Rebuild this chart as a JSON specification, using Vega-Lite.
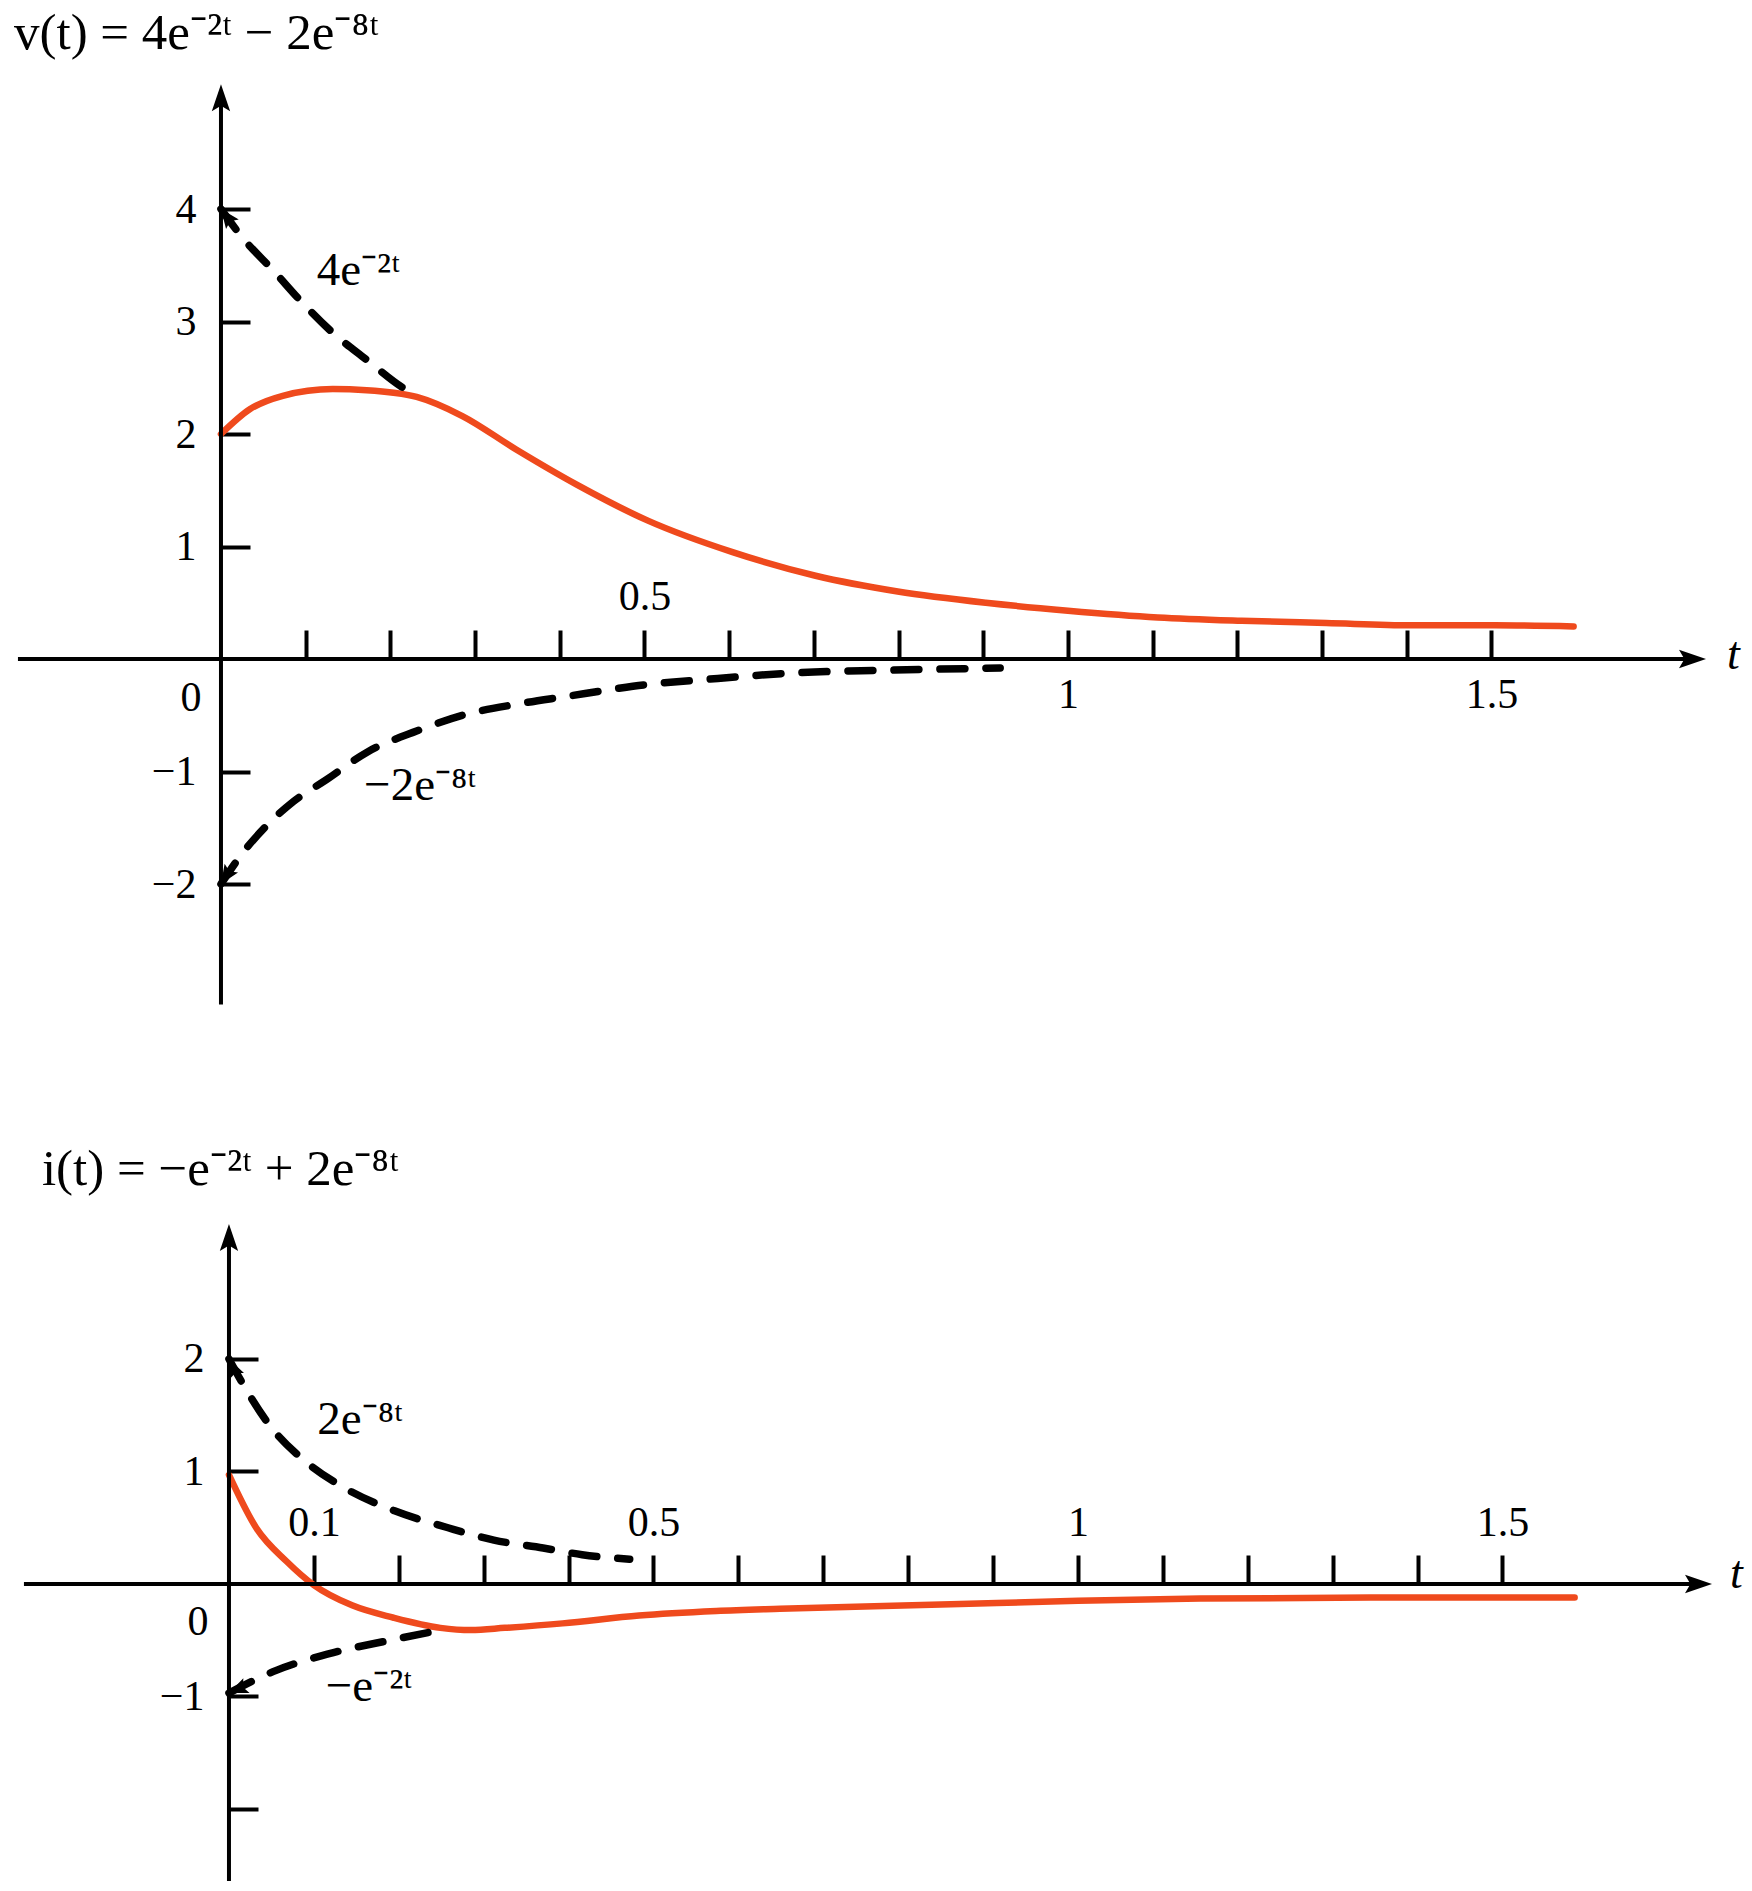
{
  "$schema": "https://vega.github.io/schema/vega-lite/v6.json",
  "width": 1752,
  "height": 1891,
  "autosize": {"type": "fit", "contains": "padding"},
  "padding": 0,
  "background": "white",
  "config": {
    "view": {"stroke": null},
    "font": "Liberation Serif",
    "axis": {
      "domain": false,
      "grid": false,
      "labelFont": "Liberation Serif",
      "labelFontSize": 42,
      "labelColor": "black",
      "tickColor": "black",
      "tickWidth": 4,
      "labelOverlap": false,
      "labelFlush": false,
      "labelBound": false
    }
  },
  "datasets": {
    "curves": [
      {"panel": "v", "series": "v", "t": 0, "value": 2.0},
      {"panel": "v", "series": "v", "t": 0.034, "value": 2.22},
      {"panel": "v", "series": "v", "t": 0.073, "value": 2.34},
      {"panel": "v", "series": "v", "t": 0.132, "value": 2.40},
      {"panel": "v", "series": "v", "t": 0.172, "value": 2.39},
      {"panel": "v", "series": "v", "t": 0.231, "value": 2.33},
      {"panel": "v", "series": "v", "t": 0.285, "value": 2.16},
      {"panel": "v", "series": "v", "t": 0.349, "value": 1.86},
      {"panel": "v", "series": "v", "t": 0.42, "value": 1.55},
      {"panel": "v", "series": "v", "t": 0.504, "value": 1.23},
      {"panel": "v", "series": "v", "t": 0.604, "value": 0.95},
      {"panel": "v", "series": "v", "t": 0.702, "value": 0.74},
      {"panel": "v", "series": "v", "t": 0.799, "value": 0.60},
      {"panel": "v", "series": "v", "t": 0.903, "value": 0.50},
      {"panel": "v", "series": "v", "t": 1.0, "value": 0.43},
      {"panel": "v", "series": "v", "t": 1.106, "value": 0.37},
      {"panel": "v", "series": "v", "t": 1.205, "value": 0.34},
      {"panel": "v", "series": "v", "t": 1.305, "value": 0.32},
      {"panel": "v", "series": "v", "t": 1.405, "value": 0.30},
      {"panel": "v", "series": "v", "t": 1.504, "value": 0.30},
      {"panel": "v", "series": "v", "t": 1.597, "value": 0.29},

      {"panel": "v", "series": "4e-2t", "t": 0, "value": 4.0},
      {"panel": "v", "series": "4e-2t", "t": 0.026, "value": 3.74},
      {"panel": "v", "series": "4e-2t", "t": 0.061, "value": 3.46},
      {"panel": "v", "series": "4e-2t", "t": 0.097, "value": 3.16},
      {"panel": "v", "series": "4e-2t", "t": 0.132, "value": 2.90},
      {"panel": "v", "series": "4e-2t", "t": 0.172, "value": 2.66},
      {"panel": "v", "series": "4e-2t", "t": 0.215, "value": 2.41},
      {"panel": "v", "series": "4e-2t", "t": 0.226, "value": 2.36},

      {"panel": "v", "series": "-2e-8t", "t": 0, "value": -2.0},
      {"panel": "v", "series": "-2e-8t", "t": 0.026, "value": -1.72},
      {"panel": "v", "series": "-2e-8t", "t": 0.054, "value": -1.48},
      {"panel": "v", "series": "-2e-8t", "t": 0.085, "value": -1.27},
      {"panel": "v", "series": "-2e-8t", "t": 0.125, "value": -1.07},
      {"panel": "v", "series": "-2e-8t", "t": 0.172, "value": -0.83},
      {"panel": "v", "series": "-2e-8t", "t": 0.231, "value": -0.64},
      {"panel": "v", "series": "-2e-8t", "t": 0.29, "value": -0.49},
      {"panel": "v", "series": "-2e-8t", "t": 0.35, "value": -0.40},
      {"panel": "v", "series": "-2e-8t", "t": 0.41, "value": -0.33},
      {"panel": "v", "series": "-2e-8t", "t": 0.47, "value": -0.26},
      {"panel": "v", "series": "-2e-8t", "t": 0.50, "value": -0.23},
      {"panel": "v", "series": "-2e-8t", "t": 0.575, "value": -0.18},
      {"panel": "v", "series": "-2e-8t", "t": 0.685, "value": -0.12},
      {"panel": "v", "series": "-2e-8t", "t": 0.785, "value": -0.10},
      {"panel": "v", "series": "-2e-8t", "t": 0.92, "value": -0.08},

      {"panel": "i", "series": "i", "t": 0, "value": 0.97},
      {"panel": "i", "series": "i", "t": 0.032, "value": 0.50},
      {"panel": "i", "series": "i", "t": 0.068, "value": 0.20},
      {"panel": "i", "series": "i", "t": 0.10, "value": -0.01},
      {"panel": "i", "series": "i", "t": 0.145, "value": -0.19},
      {"panel": "i", "series": "i", "t": 0.194, "value": -0.30},
      {"panel": "i", "series": "i", "t": 0.249, "value": -0.39},
      {"panel": "i", "series": "i", "t": 0.285, "value": -0.41},
      {"panel": "i", "series": "i", "t": 0.325, "value": -0.39},
      {"panel": "i", "series": "i", "t": 0.393, "value": -0.35},
      {"panel": "i", "series": "i", "t": 0.483, "value": -0.28},
      {"panel": "i", "series": "i", "t": 0.574, "value": -0.24},
      {"panel": "i", "series": "i", "t": 0.649, "value": -0.22},
      {"panel": "i", "series": "i", "t": 0.85, "value": -0.18},
      {"panel": "i", "series": "i", "t": 1.0, "value": -0.15},
      {"panel": "i", "series": "i", "t": 1.144, "value": -0.13},
      {"panel": "i", "series": "i", "t": 1.35, "value": -0.12},
      {"panel": "i", "series": "i", "t": 1.585, "value": -0.12},

      {"panel": "i", "series": "2e-8t", "t": 0, "value": 2.0},
      {"panel": "i", "series": "2e-8t", "t": 0.024, "value": 1.68},
      {"panel": "i", "series": "2e-8t", "t": 0.05, "value": 1.39},
      {"panel": "i", "series": "2e-8t", "t": 0.09, "value": 1.09},
      {"panel": "i", "series": "2e-8t", "t": 0.137, "value": 0.85},
      {"panel": "i", "series": "2e-8t", "t": 0.195, "value": 0.65},
      {"panel": "i", "series": "2e-8t", "t": 0.258, "value": 0.50},
      {"panel": "i", "series": "2e-8t", "t": 0.312, "value": 0.39},
      {"panel": "i", "series": "2e-8t", "t": 0.37, "value": 0.32},
      {"panel": "i", "series": "2e-8t", "t": 0.416, "value": 0.26},
      {"panel": "i", "series": "2e-8t", "t": 0.472, "value": 0.22},

      {"panel": "i", "series": "-e-2t", "t": 0, "value": -0.97},
      {"panel": "i", "series": "-e-2t", "t": 0.055, "value": -0.77},
      {"panel": "i", "series": "-e-2t", "t": 0.123, "value": -0.61},
      {"panel": "i", "series": "-e-2t", "t": 0.19, "value": -0.50},
      {"panel": "i", "series": "-e-2t", "t": 0.249, "value": -0.41}
    ],
    "notes": [
      {"panel": "v", "kind": "formula", "t": -0.2444, "value": 5.56, "text": "v(t) = 4e⁻²ᵗ − 2e⁻⁸ᵗ"},
      {"panel": "v", "kind": "curve", "t": 0.113, "value": 3.45, "text": "4e⁻²ᵗ"},
      {"panel": "v", "kind": "curve", "t": 0.169, "value": -1.13, "text": "−2e⁻⁸ᵗ"},
      {"panel": "v", "kind": "axis", "t": 1.778, "value": 0.04, "text": "t"},
      {"panel": "i", "kind": "formula", "t": -0.2203, "value": 3.68, "text": "i(t) = −e⁻²ᵗ + 2e⁻⁸ᵗ"},
      {"panel": "i", "kind": "curve", "t": 0.104, "value": 1.46, "text": "2e⁻⁸ᵗ"},
      {"panel": "i", "kind": "curve", "t": 0.114, "value": -0.92, "text": "−e⁻²ᵗ"},
      {"panel": "i", "kind": "axis", "t": 1.768, "value": 0.09, "text": "t"}
    ]
  },
  "layer": [
    {
      "layer": [
        {
          "data": {"name": "curves"},
          "transform": [{"filter": "datum.panel == 'v' && datum.series == 'v'"}],
          "mark": {"type": "line", "color": "#ef4a1d", "strokeWidth": 6.5, "interpolate": "monotone", "strokeCap": "round"},
          "encoding": {
            "x": {"field": "t", "type": "quantitative", "scale": {"domain": [-0.2609, 1.8076], "nice": false, "zero": false},
              "axis": {"orient": "bottom", "offset": -1232, "values": [0.1,0.2,0.3,0.4,0.5,0.6,0.7,0.8,0.9,1,1.1,1.2,1.3,1.4,1.5], "tickSize": -29,
                "labelExpr": "datum.value == 1 ? '1' : (datum.value == 1.5 ? '1.5' : '')", "labelPadding": 64, "labelBaseline": "middle", "title": null}},
            "y": {"field": "value", "type": "quantitative", "scale": {"domain": [-10.951, 5.858], "nice": false, "zero": false},
              "axis": {"orient": "left", "offset": -221, "values": [-2,-1,1,2,3,4], "tickSize": -29, "labelPadding": 54, "labelAlign": "right", "labelBaseline": "middle", "title": null}}
          }
        },
        {
          "data": {"name": "curves"},
          "transform": [{"filter": "datum.panel == 'v' && datum.series != 'v'"}],
          "mark": {"type": "line", "color": "black", "strokeWidth": 7.5, "interpolate": "monotone", "strokeDash": [25, 21], "strokeCap": "round"},
          "encoding": {
            "x": {"field": "t", "type": "quantitative", "scale": {"domain": [-0.2609, 1.8076], "nice": false, "zero": false},
              "axis": {"orient": "bottom", "offset": -1232, "values": [0.5], "ticks": false, "tickSize": 0, "labelExpr": "'0.5'", "labelPadding": -63, "labelBaseline": "middle", "title": null}},
            "y": {"field": "value", "type": "quantitative", "scale": {"domain": [-10.951, 5.858], "nice": false, "zero": false},
              "axis": {"orient": "left", "offset": -221, "values": [0], "ticks": false, "tickSize": 0, "labelExpr": "'0'", "labelPadding": 20, "labelOffset": 38, "labelAlign": "right", "labelBaseline": "middle", "title": null}},
            "detail": {"field": "series", "type": "nominal"}
          }
        },
        {
          "data": {"name": "notes"},
          "transform": [{"filter": "datum.panel == 'v' && datum.kind != 'axis'"}],
          "mark": {"type": "text", "align": "left", "baseline": "middle", "font": "Liberation Serif", "color": "black"},
          "encoding": {
            "x": {"field": "t", "type": "quantitative", "scale": {"domain": [-0.2609, 1.8076], "nice": false, "zero": false}, "axis": null},
            "y": {"field": "value", "type": "quantitative", "scale": {"domain": [-10.951, 5.858], "nice": false, "zero": false}, "axis": null},
            "text": {"field": "text"},
            "size": {"condition": {"test": "datum.kind == 'formula'", "value": 51}, "value": 47}
          }
        },
        {
          "data": {"name": "notes"},
          "transform": [{"filter": "datum.panel == 'v' && datum.kind == 'axis'"}],
          "mark": {"type": "text", "align": "left", "baseline": "middle", "font": "Liberation Serif", "fontStyle": "italic", "fontSize": 46, "color": "black"},
          "encoding": {
            "x": {"field": "t", "type": "quantitative", "scale": {"domain": [-0.2609, 1.8076], "nice": false, "zero": false}, "axis": null},
            "y": {"field": "value", "type": "quantitative", "scale": {"domain": [-10.951, 5.858], "nice": false, "zero": false}, "axis": null},
            "text": {"field": "text"}
          }
        },
        {
          "data": {"values": [{}]},
          "mark": {"type": "rule", "color": "black", "strokeWidth": 4},
          "encoding": {
            "x": {"datum": -0.2397, "type": "quantitative", "scale": {"domain": [-0.2609, 1.8076], "nice": false, "zero": false}, "axis": null},
            "x2": {"datum": 1.74},
            "y": {"datum": 0, "type": "quantitative", "scale": {"domain": [-10.951, 5.858], "nice": false, "zero": false}, "axis": null}
          }
        },
        {
          "data": {"values": [{}]},
          "mark": {"type": "rule", "color": "black", "strokeWidth": 4},
          "encoding": {
            "x": {"datum": 0, "type": "quantitative", "scale": {"domain": [-0.2609, 1.8076], "nice": false, "zero": false}, "axis": null},
            "y": {"datum": -3.07, "type": "quantitative", "scale": {"domain": [-10.951, 5.858], "nice": false, "zero": false}, "axis": null},
            "y2": {"datum": 5.0}
          }
        },
        {
          "data": {"values": [{}]},
          "mark": {"type": "point", "shape": "M0,0L-1,-0.34L-0.8,0L-1,0.34Z", "size": 2916, "filled": true, "color": "black", "opacity": 1, "strokeWidth": 0},
          "encoding": {
            "x": {"datum": 1.7533, "type": "quantitative", "scale": {"domain": [-0.2609, 1.8076], "nice": false, "zero": false}, "axis": null},
            "y": {"datum": 0, "type": "quantitative", "scale": {"domain": [-10.951, 5.858], "nice": false, "zero": false}, "axis": null}
          }
        },
        {
          "data": {"values": [{}]},
          "mark": {"type": "point", "shape": "M0,0L-0.34,1L0,0.8L0.34,1Z", "size": 2916, "filled": true, "color": "black", "opacity": 1, "strokeWidth": 0},
          "encoding": {
            "x": {"datum": 0, "type": "quantitative", "scale": {"domain": [-0.2609, 1.8076], "nice": false, "zero": false}, "axis": null},
            "y": {"datum": 5.11, "type": "quantitative", "scale": {"domain": [-10.951, 5.858], "nice": false, "zero": false}, "axis": null}
          }
        },
        {
          "data": {"values": [{}]},
          "mark": {"type": "point", "shape": "M0,0L-1,-0.42L-0.8,0L-1,0.42Z", "size": 1444, "angle": 233, "filled": true, "color": "black", "opacity": 1, "strokeWidth": 0},
          "encoding": {
            "x": {"datum": 0, "type": "quantitative", "scale": {"domain": [-0.2609, 1.8076], "nice": false, "zero": false}, "axis": null},
            "y": {"datum": 4, "type": "quantitative", "scale": {"domain": [-10.951, 5.858], "nice": false, "zero": false}, "axis": null}
          }
        },
        {
          "data": {"values": [{}]},
          "mark": {"type": "point", "shape": "M0,0L-1,-0.42L-0.8,0L-1,0.42Z", "size": 1444, "angle": 123, "filled": true, "color": "black", "opacity": 1, "strokeWidth": 0},
          "encoding": {
            "x": {"datum": 0, "type": "quantitative", "scale": {"domain": [-0.2609, 1.8076], "nice": false, "zero": false}, "axis": null},
            "y": {"datum": -2, "type": "quantitative", "scale": {"domain": [-10.951, 5.858], "nice": false, "zero": false}, "axis": null}
          }
        }
      ],
      "resolve": {"axis": {"x": "independent", "y": "independent"}}
    },
    {
      "layer": [
        {
          "data": {"name": "curves"},
          "transform": [{"filter": "datum.panel == 'i' && datum.series == 'i'"}],
          "mark": {"type": "line", "color": "#ef4a1d", "strokeWidth": 6.5, "interpolate": "monotone", "strokeCap": "round"},
          "encoding": {
            "x": {"field": "t", "type": "quantitative", "scale": {"domain": [-0.2697, 1.7939], "nice": false, "zero": false},
              "axis": {"orient": "bottom", "offset": -307, "values": [0.1,0.2,0.3,0.4,0.5,0.6,0.7,0.8,0.9,1,1.1,1.2,1.3,1.4,1.5], "tickSize": -29,
                "labelExpr": "datum.value == 0.1 ? '0.1' : (datum.value == 0.5 ? '0.5' : (datum.value == 1 ? '1' : (datum.value == 1.5 ? '1.5' : '')))", "labelPadding": -33, "labelBaseline": "middle", "title": null}},
            "y": {"field": "value", "type": "quantitative", "scale": {"domain": [-2.729, 14.08], "nice": false, "zero": false},
              "axis": {"orient": "left", "offset": -229, "values": [-2,-1,1,2], "tickSize": -29, "labelExpr": "datum.value == -2 ? '' : datum.label", "labelPadding": 54, "labelAlign": "right", "labelBaseline": "middle", "title": null}}
          }
        },
        {
          "data": {"name": "curves"},
          "transform": [{"filter": "datum.panel == 'i' && datum.series != 'i'"}],
          "mark": {"type": "line", "color": "black", "strokeWidth": 7.5, "interpolate": "monotone", "strokeDash": [25, 21], "strokeCap": "round"},
          "encoding": {
            "x": {"field": "t", "type": "quantitative", "scale": {"domain": [-0.2697, 1.7939], "nice": false, "zero": false}, "axis": null},
            "y": {"field": "value", "type": "quantitative", "scale": {"domain": [-2.729, 14.08], "nice": false, "zero": false},
              "axis": {"orient": "left", "offset": -229, "values": [0], "ticks": false, "tickSize": 0, "labelExpr": "'0'", "labelPadding": 21, "labelOffset": 38, "labelAlign": "right", "labelBaseline": "middle", "title": null}},
            "detail": {"field": "series", "type": "nominal"}
          }
        },
        {
          "data": {"name": "notes"},
          "transform": [{"filter": "datum.panel == 'i' && datum.kind != 'axis'"}],
          "mark": {"type": "text", "align": "left", "baseline": "middle", "font": "Liberation Serif", "color": "black"},
          "encoding": {
            "x": {"field": "t", "type": "quantitative", "scale": {"domain": [-0.2697, 1.7939], "nice": false, "zero": false}, "axis": null},
            "y": {"field": "value", "type": "quantitative", "scale": {"domain": [-2.729, 14.08], "nice": false, "zero": false}, "axis": null},
            "text": {"field": "text"},
            "size": {"condition": {"test": "datum.kind == 'formula'", "value": 51}, "value": 47}
          }
        },
        {
          "data": {"name": "notes"},
          "transform": [{"filter": "datum.panel == 'i' && datum.kind == 'axis'"}],
          "mark": {"type": "text", "align": "left", "baseline": "middle", "font": "Liberation Serif", "fontStyle": "italic", "fontSize": 46, "color": "black"},
          "encoding": {
            "x": {"field": "t", "type": "quantitative", "scale": {"domain": [-0.2697, 1.7939], "nice": false, "zero": false}, "axis": null},
            "y": {"field": "value", "type": "quantitative", "scale": {"domain": [-2.729, 14.08], "nice": false, "zero": false}, "axis": null},
            "text": {"field": "text"}
          }
        },
        {
          "data": {"values": [{}]},
          "mark": {"type": "rule", "color": "black", "strokeWidth": 4},
          "encoding": {
            "x": {"datum": -0.2415, "type": "quantitative", "scale": {"domain": [-0.2697, 1.7939], "nice": false, "zero": false}, "axis": null},
            "x2": {"datum": 1.733},
            "y": {"datum": 0, "type": "quantitative", "scale": {"domain": [-2.729, 14.08], "nice": false, "zero": false}, "axis": null}
          }
        },
        {
          "data": {"values": [{}]},
          "mark": {"type": "rule", "color": "black", "strokeWidth": 4},
          "encoding": {
            "x": {"datum": 0, "type": "quantitative", "scale": {"domain": [-0.2697, 1.7939], "nice": false, "zero": false}, "axis": null},
            "y": {"datum": -2.64, "type": "quantitative", "scale": {"domain": [-2.729, 14.08], "nice": false, "zero": false}, "axis": null},
            "y2": {"datum": 3.1}
          }
        },
        {
          "data": {"values": [{}]},
          "mark": {"type": "point", "shape": "M0,0L-1,-0.34L-0.8,0L-1,0.34Z", "size": 2916, "filled": true, "color": "black", "opacity": 1, "strokeWidth": 0},
          "encoding": {
            "x": {"datum": 1.7468, "type": "quantitative", "scale": {"domain": [-0.2697, 1.7939], "nice": false, "zero": false}, "axis": null},
            "y": {"datum": 0, "type": "quantitative", "scale": {"domain": [-2.729, 14.08], "nice": false, "zero": false}, "axis": null}
          }
        },
        {
          "data": {"values": [{}]},
          "mark": {"type": "point", "shape": "M0,0L-0.34,1L0,0.8L0.34,1Z", "size": 2916, "filled": true, "color": "black", "opacity": 1, "strokeWidth": 0},
          "encoding": {
            "x": {"datum": 0, "type": "quantitative", "scale": {"domain": [-0.2697, 1.7939], "nice": false, "zero": false}, "axis": null},
            "y": {"datum": 3.2, "type": "quantitative", "scale": {"domain": [-2.729, 14.08], "nice": false, "zero": false}, "axis": null}
          }
        },
        {
          "data": {"values": [{}]},
          "mark": {"type": "point", "shape": "M0,0L-1,-0.42L-0.8,0L-1,0.42Z", "size": 1444, "angle": 246, "filled": true, "color": "black", "opacity": 1, "strokeWidth": 0},
          "encoding": {
            "x": {"datum": 0, "type": "quantitative", "scale": {"domain": [-0.2697, 1.7939], "nice": false, "zero": false}, "axis": null},
            "y": {"datum": 2, "type": "quantitative", "scale": {"domain": [-2.729, 14.08], "nice": false, "zero": false}, "axis": null}
          }
        },
        {
          "data": {"values": [{}]},
          "mark": {"type": "point", "shape": "M0,0L-1,-0.42L-0.8,0L-1,0.42Z", "size": 1444, "angle": 157, "filled": true, "color": "black", "opacity": 1, "strokeWidth": 0},
          "encoding": {
            "x": {"datum": 0, "type": "quantitative", "scale": {"domain": [-0.2697, 1.7939], "nice": false, "zero": false}, "axis": null},
            "y": {"datum": -0.97, "type": "quantitative", "scale": {"domain": [-2.729, 14.08], "nice": false, "zero": false}, "axis": null}
          }
        }
      ],
      "resolve": {"axis": {"x": "independent", "y": "independent"}}
    }
  ],
  "resolve": {"scale": {"x": "independent", "y": "independent"}, "axis": {"x": "independent", "y": "independent"}}
}
